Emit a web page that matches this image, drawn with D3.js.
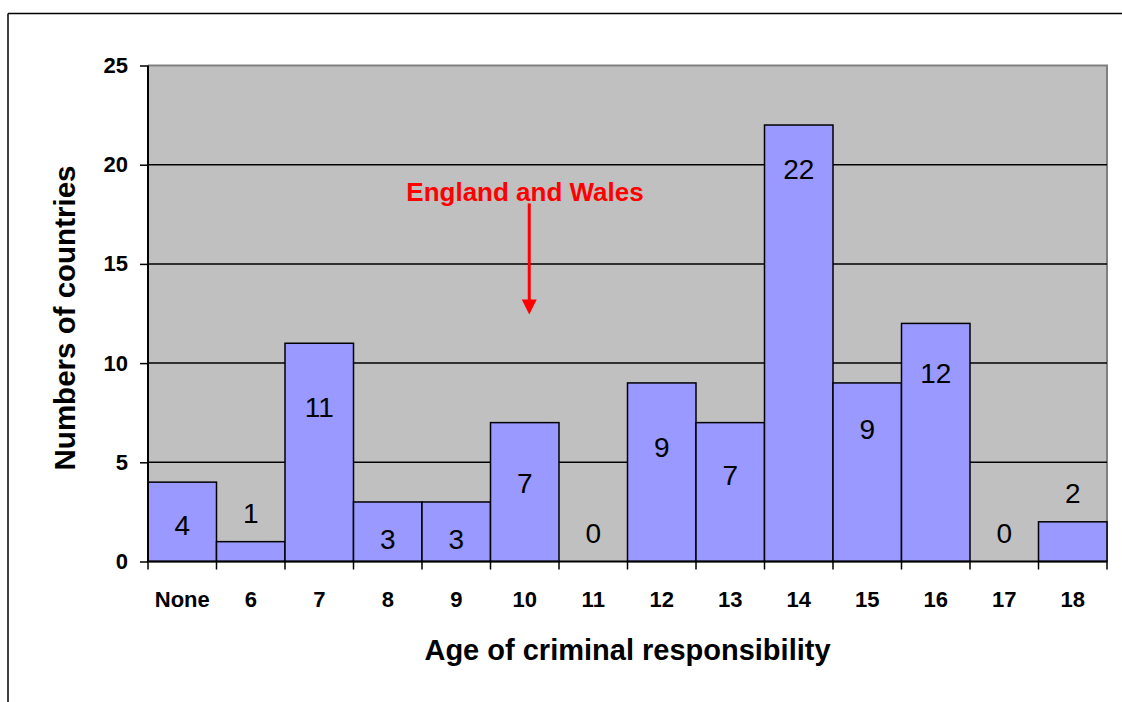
<!DOCTYPE html>
<html>
<head>
<meta charset="utf-8">
<script src="https://cdn.jsdelivr.net/npm/d3@7/dist/d3.min.js"></script>
<style>
  html, body { margin: 0; padding: 0; background: #fff; }
  svg { display: block; font-family: Arial, "Liberation Sans", sans-serif; }
</style>
</head>
<body>
<svg id="chart" width="1122" height="702"></svg>
<script>
// ---- data ----
const categories = ["None", "6", "7", "8", "9", "10", "11", "12", "13", "14", "15", "16", "17", "18"];
const counts     = [4, 1, 11, 3, 3, 7, 0, 9, 7, 22, 9, 12, 0, 2];
// baseline of each value label, in data units (as placed in the original)
const labelAt    = [1.34, 1.94, 7.28, 0.63, 0.63, 3.45, 0.93, 5.27, 3.85, 19.28, 6.17, 9.0, 0.93, 2.95];
const yTicks     = [0, 5, 10, 15, 20, 25];
const annotation = { text: "England and Wales", category: "10", from: 18.05, to: 12.45 };

(function () {
// ---- layout ----
const svg = d3.select("#chart");
const pLeft = 148, pRight = 1107, pTop = 65.5, pBottom = 561.5;

const x = d3.scaleBand().domain(categories).range([pLeft, pRight]).padding(0);
const y = d3.scaleLinear().domain([0, 25]).range([pBottom, pTop]);

// outer frame
svg.append("line").attr("x1", 8).attr("x2", 1122).attr("y1", 13.5).attr("y2", 13.5)
  .attr("stroke", "#000").attr("stroke-width", 1.5);
svg.append("line").attr("x1", 8).attr("x2", 8).attr("y1", 13.5).attr("y2", 702)
  .attr("stroke", "#000").attr("stroke-width", 1.5);

// plot background
svg.append("rect").attr("x", pLeft).attr("y", pTop).attr("width", pRight - pLeft).attr("height", pBottom - pTop)
  .attr("fill", "#C0C0C0");
// top/right plot border
svg.append("path").attr("d", `M${pLeft},${pTop}H${pRight}V${pBottom}`)
  .attr("fill", "none").attr("stroke", "#808080").attr("stroke-width", 2);

// gridlines
svg.append("g").selectAll("line").data(yTicks.filter(t => t > 0 && t < 25)).join("line")
  .attr("x1", pLeft).attr("x2", pRight)
  .attr("y1", d => y(d)).attr("y2", d => y(d))
  .attr("stroke", "#000").attr("stroke-width", 1.5);

// bars
svg.append("g").selectAll("rect").data(categories).join("rect")
  .attr("x", d => x(d))
  .attr("y", (d, i) => y(counts[i]))
  .attr("width", x.bandwidth())
  .attr("height", (d, i) => y(0) - y(counts[i]))
  .attr("fill", "#9999FF")
  .attr("stroke", "#000")
  .attr("stroke-width", 1.5);

// value labels
svg.append("g").selectAll("text").data(categories).join("text")
  .attr("x", d => x(d) + x.bandwidth() / 2)
  .attr("y", (d, i) => y(labelAt[i]))
  .attr("text-anchor", "middle")
  .attr("font-size", 28)
  .attr("fill", "#000")
  .text((d, i) => counts[i]);

// y axis
const yAxis = d3.axisLeft(y).tickValues(yTicks).tickSize(8).tickPadding(12);
const gy = svg.append("g").attr("transform", `translate(${pLeft},0)`).call(yAxis);
gy.select(".domain").attr("stroke", "#000").attr("stroke-width", 2).attr("d", `M0,${pTop}V${pBottom}`);
gy.selectAll(".tick line").attr("stroke", "#000").attr("stroke-width", 1.5);
gy.selectAll(".tick text").attr("font-size", 22).attr("font-weight", "bold")
  .attr("font-family", "Arial, 'Liberation Sans', sans-serif").attr("fill", "#000");

// x axis
const boundaries = categories.map(c => x(c)).concat([pRight]);
const gx = svg.append("g");
gx.append("line").attr("x1", pLeft).attr("x2", pRight).attr("y1", pBottom).attr("y2", pBottom)
  .attr("stroke", "#000").attr("stroke-width", 2);
gx.selectAll("line.tick").data(boundaries).join("line").attr("class", "tick")
  .attr("x1", d => d).attr("x2", d => d).attr("y1", pBottom).attr("y2", pBottom + 8)
  .attr("stroke", "#000").attr("stroke-width", 1.5);
gx.selectAll("text").data(categories).join("text")
  .attr("x", d => x(d) + x.bandwidth() / 2)
  .attr("y", 607)
  .attr("text-anchor", "middle")
  .attr("font-size", 22)
  .attr("font-weight", "bold")
  .text(d => d);

// axis titles
svg.append("text")
  .attr("x", (pLeft + pRight) / 2).attr("y", 660)
  .attr("text-anchor", "middle").attr("font-size", 29).attr("font-weight", "bold")
  .text("Age of criminal responsibility");
svg.append("text")
  .attr("transform", `translate(75,${318}) rotate(-90)`)
  .attr("text-anchor", "middle").attr("font-size", 29.5).attr("font-weight", "bold")
  .text("Numbers of countries");

// annotation
const ax = x(annotation.category) + x.bandwidth() / 2 + 4.5;
svg.append("text")
  .attr("x", 525).attr("y", 201)
  .attr("text-anchor", "middle").attr("font-size", 26).attr("font-weight", "bold")
  .attr("fill", "#FF0000")
  .text(annotation.text);
svg.append("line")
  .attr("x1", ax).attr("x2", ax)
  .attr("y1", y(annotation.from)).attr("y2", y(annotation.to) - 14)
  .attr("stroke", "#FF0000").attr("stroke-width", 3);
svg.append("path")
  .attr("d", `M${ax - 7.5},${y(annotation.to) - 15}L${ax + 7.5},${y(annotation.to) - 15}L${ax},${y(annotation.to)}Z`)
  .attr("fill", "#FF0000");
})();
</script>
</body>
</html>
